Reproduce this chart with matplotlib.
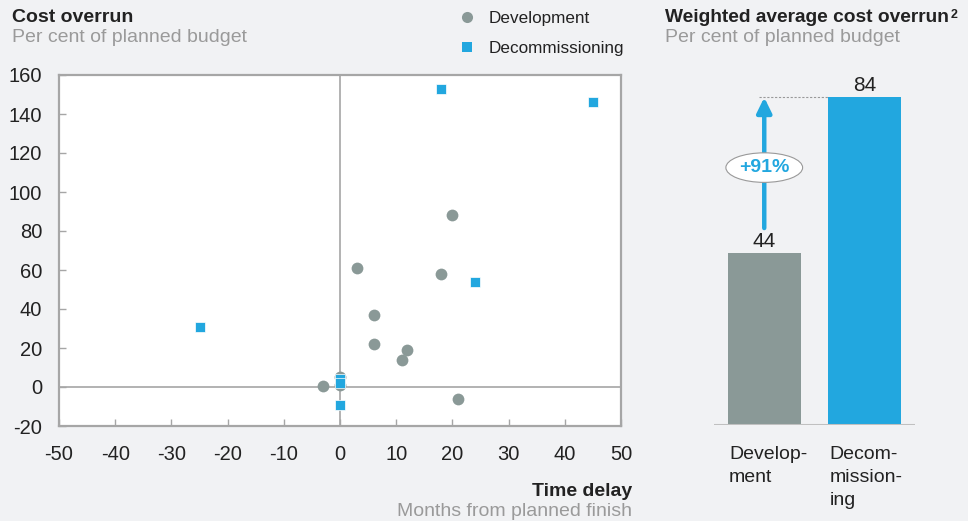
import numpy as np
import matplotlib.pyplot as plt

plt.rcParams['font.family'] = ['Liberation Sans', 'DejaVu Sans']
plt.rcParams['axes.unicode_minus'] = False

# scatter data: months of delay vs cost overrun (%)
dev_x = [-3, 0, 0, 3, 6, 6, 11, 12, 18, 20, 21]
dev_y = [0.5, 5, 1, 61, 37, 22, 14, 19, 58, 88, -6]
dec_x = [18, 45, 24, -25, 0, 0, 0]
dec_y = [153, 146, 54, 31, 4, 2, -9]

# weighted averages
bar_labels = ['Develop-\nment', 'Decom-\nmission-\ning']
bar_values = [44, 84]
uplift = '+91%'

x_ticks = list(range(-50, 51, 10))
y_ticks = list(range(-20, 161, 20))

BG = '#f1f2f4'
GREY = '#8a9997'
BLUE = '#22a7df'
DARK = '#222222'
LIGHT = '#9a9a9a'
FRAME = '#a6a6a6'

W, H = 968, 521
fig = plt.figure(figsize=(W / 100, H / 100), dpi=100, facecolor=BG)


def px_axes(x0, y0, x1, y1):
    # pixel box (top-left origin) -> figure fraction axes
    return fig.add_axes([x0 / W, 1 - y1 / H, (x1 - x0) / W, (y1 - y0) / H])


# ---- left: scatter
ax = px_axes(59, 75, 621, 426)
ax.set_facecolor('white')
ax.axhline(0, color=FRAME, lw=1.2, zorder=1)
ax.axvline(0, color=FRAME, lw=1.2, zorder=1)
ax.scatter(dev_x, dev_y, s=72, marker='o', color=GREY, linewidths=0, zorder=3)
ax.scatter(dec_x, dec_y, s=60, marker='s', color=BLUE, edgecolors='white',
           linewidths=0.5, zorder=4)
ax.set_xlim(-50, 50)
ax.set_ylim(-20, 160)
ax.set_xticks(x_ticks)
ax.set_yticks(y_ticks)
ax.tick_params(direction='in', length=5, width=1, color=FRAME,
               labelsize=14.5, labelcolor=DARK)
ax.tick_params(axis='x', pad=14)
ax.tick_params(axis='y', pad=12)
for s in ax.spines.values():
    s.set_color(FRAME)
    s.set_linewidth(1.6)

fig.text(12 / W, 1 - 18 / H, 'Cost overrun', fontsize=14, fontweight='bold',
         color=DARK, va='center')
fig.text(12 / W, 1 - 38 / H, 'Per cent of planned budget', fontsize=14,
         color=LIGHT, va='center')
fig.text(632 / W, 1 - 492 / H, 'Time delay', fontsize=14, fontweight='bold',
         color=DARK, va='center', ha='right')
fig.text(632 / W, 1 - 512 / H, 'Months from planned finish', fontsize=14,
         color=LIGHT, va='center', ha='right')

# legend
fig.lines.append(plt.Line2D([467 / W], [1 - 17 / H], marker='o', ms=8,
                            color=GREY, mew=0, transform=fig.transFigure))
fig.lines.append(plt.Line2D([467 / W], [1 - 47 / H], marker='s', ms=7,
                            color=BLUE, mew=0, transform=fig.transFigure))
fig.text(489 / W, 1 - 18 / H, 'Development', fontsize=12.3, color=DARK, va='center')
fig.text(489 / W, 1 - 48 / H, 'Decommissioning', fontsize=12.3, color=DARK, va='center')

# ---- right: bars
bx = px_axes(714, 75, 915, 425)
bx.set_facecolor(BG)
bw = 0.726
pos = np.arange(len(bar_values))
bx.bar(pos, bar_values, width=bw, color=[GREY, BLUE], zorder=2)
bx.set_xlim(-0.5, 1.5)
bx.set_ylim(0, 350 / 3.9)
bx.axhline(0, color='#c0c0c0', lw=2.2, zorder=3)
bx.axis('off')
for p, v in zip(pos, bar_values):
    bx.annotate(str(v), (p, v), xytext=(0, 2), textcoords='offset points',
                ha='center', va='bottom', fontsize=15, color=DARK)
for p, lab in zip(pos, bar_labels):
    bx.annotate(lab, (p - bw / 2, 0), xytext=(1, -15), textcoords='offset points',
                ha='left', va='top', fontsize=14, color=DARK, linespacing=1.45,
                annotation_clip=False)

# dotted reference line and growth arrow
bx.plot([-0.05, 1 - bw / 2], [bar_values[1], bar_values[1]], ls=(0, (2, 1.5)),
        color='#999999', lw=0.8, zorder=1)
bx.annotate('', xy=(0, bar_values[1]), xytext=(0, bar_values[0] + 6.5),
            arrowprops=dict(arrowstyle='-|>,head_length=0.45,head_width=0.22',
                            color=BLUE, lw=3.2, shrinkA=0, shrinkB=0,
                            mutation_scale=20))
bx.text(0, 66, uplift, ha='center', va='center', fontsize=14, fontweight='bold',
        color=BLUE, bbox=dict(boxstyle='ellipse,pad=0.1', fc='white',
                              ec='#999999', lw=0.8))

title = fig.text(665 / W, 1 - 17 / H, 'Weighted average cost overrun',
                 fontsize=13.8, fontweight='bold', color=DARK, va='center')
fig.text(665 / W, 1 - 38 / H, 'Per cent of planned budget', fontsize=14,
         color=LIGHT, va='center')
bx.annotate('2', xy=(1, 1), xycoords=title, xytext=(1, 0),
            textcoords='offset points', va='top', ha='left', fontsize=9,
            fontweight='bold', color=DARK, annotation_clip=False)

fig.savefig('out.png', dpi=100, facecolor=BG)
